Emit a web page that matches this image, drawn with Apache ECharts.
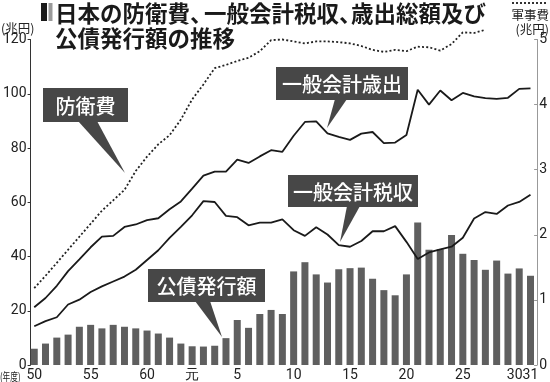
<!DOCTYPE html>
<html><head><meta charset="utf-8">
<script src="https://cdn.jsdelivr.net/npm/echarts@6/dist/echarts.min.js"></script>
<style>html,body{margin:0;padding:0;background:#fff}#c{width:550px;height:382px}</style>
</head><body><div id="c"></div>
<script>
// Fiscal years: Showa 50-63, Heisei 元(1)-31
const years = ["50","51","52","53","54","55","56","57","58","59","60","61","62","63",
  "元","2","3","4","5","6","7","8","9","10","11","12","13","14","15","16","17","18","19",
  "20","21","22","23","24","25","26","27","28","29","30","31"];
const tickLabels = ["50","55","60","元","5","10","15","20","25","30","31"];

// 公債発行額 (兆円, left axis)
const bondIssue = [6.0, 7.9, 10.1, 11.2, 14.1, 14.8, 13.5, 14.8, 14.1, 13.5,
  12.7, 11.6, 10.1, 7.9, 6.9, 6.8, 7.1, 9.9, 16.6, 13.7,
  18.8, 20.3, 18.8, 34.5, 37.9, 33.4, 30.4, 35.3, 35.7, 35.9,
  31.8, 27.6, 25.7, 33.4, 52.5, 42.5, 42.7, 47.9, 41.0, 38.7,
  35.1, 38.5, 33.7, 35.6, 32.9];

// 一般会計歳出 (兆円, left axis)
const expenditure = [21.3, 24.7, 29.2, 34.6, 38.9, 43.4, 47.3, 47.6, 50.9, 51.8,
  53.4, 54.1, 57.4, 60.3, 65.0, 69.8, 71.3, 71.3, 75.7, 74.5,
  76.9, 79.2, 78.6, 84.5, 89.6, 89.8, 85.4, 84.1, 83.0, 85.3,
  85.9, 81.8, 82.0, 84.8, 101.5, 96.0, 101.2, 97.6, 100.3, 99.0,
  98.4, 98.1, 98.5, 101.8, 102.0];

// 一般会計税収 (兆円, left axis)
const taxRevenue = [14.3, 16.2, 17.6, 22.3, 24.1, 26.9, 29.0, 30.8, 32.6, 35.1,
  38.7, 42.3, 46.9, 50.9, 55.2, 60.4, 60.1, 55.0, 54.5, 51.5,
  52.5, 52.5, 53.7, 49.7, 47.6, 50.8, 48.1, 44.2, 43.6, 45.7,
  49.3, 49.3, 51.2, 45.4, 39.1, 41.5, 42.6, 43.6, 46.9, 54.0,
  56.4, 55.7, 58.8, 60.1, 62.8];

// 防衛費 / 軍事費 (兆円, right axis)
const defense = [1.18, 1.37, 1.57, 1.77, 1.97, 2.17, 2.37, 2.53, 2.69, 2.98,
  3.20, 3.39, 3.53, 3.77, 4.08, 4.31, 4.56, 4.61, 4.67, 4.72,
  4.82, 4.99, 5.00, 4.97, 4.94, 4.97, 4.97, 4.96, 4.94, 4.90,
  4.84, 4.81, 4.84, 4.82, 4.89, 4.88, 4.83, 4.93, 5.11, 5.10,
  5.15, null, null, null, null];

const NUM_FONT = "'Liberation Sans Narrow','Arial Narrow',Roboto,sans-serif";
const JP_FONT = "'Noto Sans CJK JP','Noto Sans CJK SC',sans-serif";
const BOX = '#474747';
const lastLabel = tickLabels[tickLabels.length - 1];
const prevLabel = tickLabels[tickLabels.length - 2];

function callout(x, y, w, h, base1, base2, tip, label) {
  return {
    type: 'group', z: 100,
    children: [
      { type: 'polygon', shape: { points: [[base1, y + h - 1], [base2, y + h - 1], tip] }, style: { fill: BOX } },
      { type: 'rect', shape: { x: x, y: y, width: w, height: h }, style: { fill: BOX } },
      { type: 'text', style: { x: x + w / 2, y: y + h / 2 + 1, text: label, fill: '#fff',
          font: "500 20px " + JP_FONT, align: 'center', verticalAlign: 'middle' } }
    ]
  };
}

const xLabelBase = { fontSize: 14, fontFamily: NUM_FONT, color: '#222', margin: 3, hideOverlap: false };

const chart = echarts.init(document.getElementById('c'), null, { renderer: 'canvas' });
chart.setOption({
  animation: false,
  backgroundColor: '#fff',
  grid: { left: 19, right: 9, top: 39.5, bottom: 14.5 },
  xAxis: [
    {
      type: 'category', data: years, boundaryGap: true, position: 'bottom',
      axisLine: { show: false }, axisTick: { show: false }, splitLine: { show: false },
      axisLabel: Object.assign({
        interval: (i, v) => v !== lastLabel && tickLabels.includes(v),
        formatter: v => v === prevLabel ? '{s|' + v + '}' : v,
        rich: { s: { fontSize: 14, fontFamily: NUM_FONT, color: '#222', padding: [0, 9, 0, 0] } }
      }, xLabelBase)
    },
    {
      type: 'category', data: years, boundaryGap: true, position: 'bottom',
      axisLine: { show: false }, axisTick: { show: false }, splitLine: { show: false },
      axisLabel: Object.assign({
        interval: (i, v) => v === lastLabel,
        showMaxLabel: true
      }, xLabelBase)
    }
  ],
  yAxis: [
    {
      type: 'value', min: 0, max: 120, interval: 20, offset: -2,
      axisLine: { show: true, lineStyle: { color: '#333', width: 1 } },
      axisTick: { show: true, length: 3, lineStyle: { color: '#333' } },
      splitLine: { show: false },
      axisLabel: { fontSize: 14, fontFamily: NUM_FONT, color: '#222', margin: 4 }
    },
    {
      type: 'value', position: 'right', min: 0, max: 5, interval: 1, offset: 1,
      axisLine: { show: true, lineStyle: { color: '#999', width: 1 } },
      axisTick: { show: true, inside: true, length: 3, lineStyle: { color: '#999' } },
      splitLine: { show: false },
      axisLabel: { fontSize: 14, fontFamily: NUM_FONT, color: '#222', margin: 2 }
    }
  ],
  series: [
    { name: '公債発行額', type: 'bar', xAxisIndex: 0, yAxisIndex: 0, data: bondIssue, barWidth: 7,
      itemStyle: { color: '#5f5f5f' }, z: 1 },
    { name: '一般会計歳出', type: 'line', xAxisIndex: 0, yAxisIndex: 0, data: expenditure, symbol: 'none',
      lineStyle: { color: '#1a1a1a', width: 1.8 }, z: 3 },
    { name: '一般会計税収', type: 'line', xAxisIndex: 0, yAxisIndex: 0, data: taxRevenue, symbol: 'none',
      lineStyle: { color: '#1a1a1a', width: 1.8 }, z: 3 },
    { name: '防衛費', type: 'line', xAxisIndex: 0, yAxisIndex: 1, data: defense, symbol: 'none', clip: false,
      connectNulls: false,
      lineStyle: { color: '#222', width: 1.8, type: [2, 2.2] }, z: 3 }
  ],
  graphic: [
    // title marker
    { type: 'rect', shape: { x: 41, y: 3, width: 6, height: 18 }, style: { fill: '#1a1a1a' } },
    { type: 'rect', shape: { x: 48.5, y: 3, width: 4, height: 18 }, style: { fill: '#9a9a9a' } },
    // title
    { type: 'text', style: { x: 55, y: 13, text: '日本の防衛費、', font: "bold 22.5px " + JP_FONT, fill: '#1a1a1a', verticalAlign: 'middle' } },
    { type: 'text', style: { x: 204, y: 13, text: '一般会計税収、', font: "bold 22.5px " + JP_FONT, fill: '#1a1a1a', verticalAlign: 'middle' } },
    { type: 'text', style: { x: 351, y: 13, text: '歳出総額及び', font: "bold 22.5px " + JP_FONT, fill: '#1a1a1a', verticalAlign: 'middle' } },
    { type: 'text', style: { x: 55, y: 38, text: '公債発行額の推移', font: "bold 22.5px " + JP_FONT, fill: '#1a1a1a', verticalAlign: 'middle' } },
    // units
    { type: 'text', style: { x: 1, y: 28, text: '(兆円)', font: "12.5px " + JP_FONT, fill: '#222', verticalAlign: 'middle' } },
    { type: 'line', shape: { x1: 512, y1: 3, x2: 548, y2: 3 }, style: { stroke: '#333', lineWidth: 2, lineDash: [2, 2] } },
    { type: 'text', style: { x: 549, y: 15.5, text: '軍事費', font: "12.5px " + JP_FONT, fill: '#222', align: 'right', verticalAlign: 'middle' } },
    { type: 'text', style: { x: 549, y: 29, text: '(兆円)', font: "12.5px " + JP_FONT, fill: '#222', align: 'right', verticalAlign: 'middle' } },
    { type: 'text', x: 0, y: 377, scaleX: 0.7,
      style: { x: 0, y: 0, text: '(年度)', font: "11px " + JP_FONT, fill: '#222', align: 'left', verticalAlign: 'middle' } },
    // callouts
    callout(43, 88, 85, 34, 78, 97, [125, 173], '防衛費'),
    callout(276, 67, 132, 33, 335, 347, [327, 128], '一般会計歳出'),
    callout(288, 175, 130, 32, 347, 360, [340, 242], '一般会計税収'),
    callout(148, 269, 117, 33, 195, 210, [222, 337], '公債発行額')
  ]
});
</script>
</body></html>
